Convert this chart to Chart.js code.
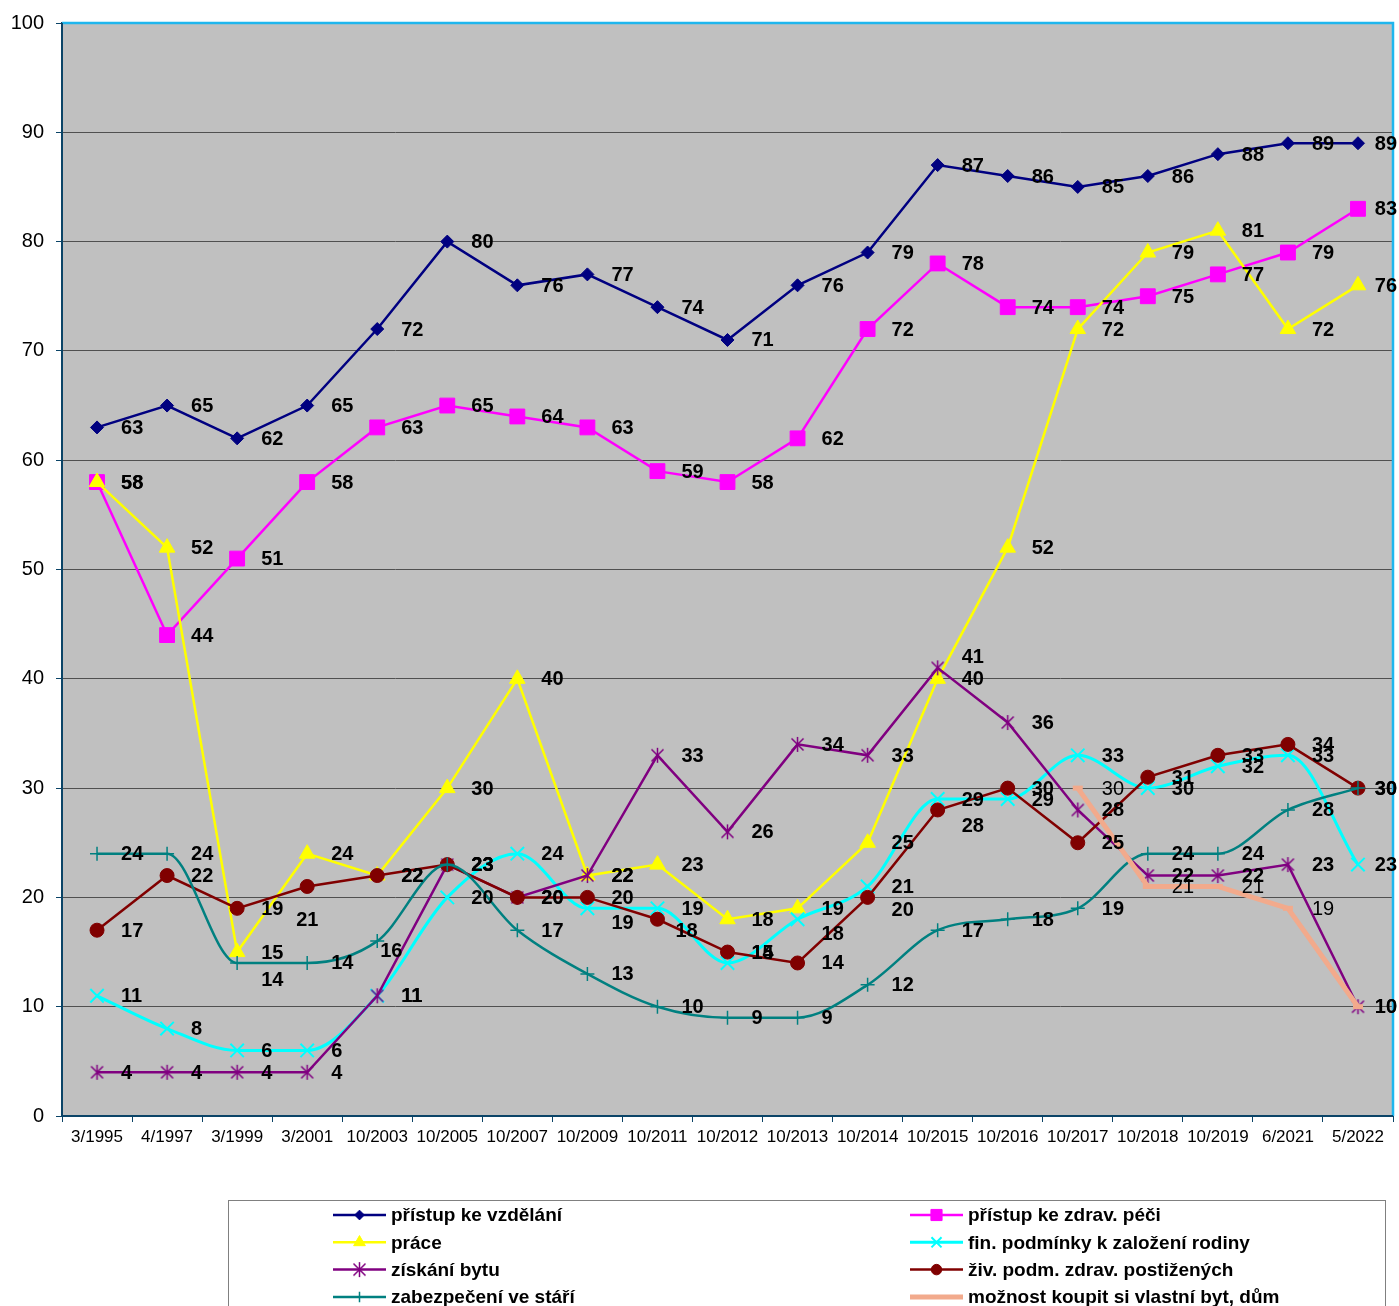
<!DOCTYPE html>
<html><head><meta charset="utf-8">
<script src="https://cdn.jsdelivr.net/npm/chart.js@4"></script>
<style>html,body{margin:0;padding:0;background:#fff}#wrap{width:1399px;height:1306px;position:relative}</style>
</head><body><div id="wrap"><canvas id="c" width="1399" height="1306"></canvas></div>
<script>
const categories = ['3/1995','4/1997','3/1999','3/2001','10/2003','10/2005','10/2007','10/2009','10/2011','10/2012','10/2013','10/2014','10/2015','10/2016','10/2017','10/2018','10/2019','6/2021','5/2022'];
const seriesNames = ['přístup ke vzdělání','přístup ke zdrav. péči','práce','fin. podmínky k založení rodiny','získání bytu','živ. podm. zdrav. postižených','zabezpečení ve stáří','možnost koupit si vlastní byt, dům'];
const vzdelani = [63,65,62,65,72,80,76,77,74,71,76,79,87,86,85,86,88,89,89];
const zdravPece = [58,44,51,58,63,65,64,63,59,58,62,72,78,74,74,75,77,79,83];
const prace = [58,52,15,24,22,30,40,22,23,18,19,25,40,52,72,79,81,72,76];
const finPodminky = [11,8,6,6,11,20,24,19,19,14,18,21,29,29,33,30,32,33,23];
const ziskaniBytu = [4,4,4,4,11,23,20,22,33,26,34,33,41,36,28,22,22,23,10];
const zivPodm = [17,22,19,21,22,23,20,20,18,15,14,20,28,30,25,31,33,34,30];
const zabezpeceni = [24,24,14,14,16,23,17,13,10,9,9,12,17,18,19,24,24,28,30];
const moznostKoupit = [null,null,null,null,null,null,null,null,null,null,null,null,null,null,30,21,21,19,10];
const yMin = 0, yMax = 100, yStep = 10;

// value-label nudges (series index, point index, dx, dy) — style only, as in the reference
const labelNudges = [
  [3, 7, 0, 14], [3, 9, 0, -10], [3, 10, 0, 14],
  [5, 3, -35, 33], [5, 8, -6, 11], [5, 11, 0, 12], [5, 12, 0, 16],
  [6, 2, 0, 17], [6, 4, -21, 9],
  [4, 12, 0, -11]
];

const FONT = "'Liberation Sans', Arial, sans-serif";

function starImg(color, size) {
  const c = document.createElement('canvas');
  c.width = size; c.height = size;
  const g = c.getContext('2d');
  g.strokeStyle = color; g.lineWidth = 1.5;
  const m = size / 2, r = size / 2 - 1;
  g.beginPath();
  g.moveTo(m, m - r); g.lineTo(m, m + r);
  g.moveTo(m - r * 0.8, m - r * 0.8); g.lineTo(m + r * 0.8, m + r * 0.8);
  g.moveTo(m + r * 0.8, m - r * 0.8); g.lineTo(m - r * 0.8, m + r * 0.8);
  g.stroke();
  return c;
}

const styles = [
  {color:'#000080', pointStyle:'rectRot', radius:6.5, width:2.5, pbw:1},
  {color:'#FF00FF', pointStyle:'rect', radius:10.5, width:2.5, pbw:1},
  {color:'#FFFF00', pointStyle:'triangle', radius:9, width:2.5, pbw:1},
  {color:'#00FFFF', pointStyle:'crossRot', radius:9.5, width:3, pbw:2, smooth:true},
  {color:'#800080', pointStyle:starImg('#800080', 17), radius:8, width:2.5, pbw:1.5},
  {color:'#800000', pointStyle:'circle', radius:7, width:2.5, pbw:1},
  {color:'#008080', pointStyle:'cross', radius:7, width:2.5, pbw:1.5, smooth:true},
  {color:'#F2AA8C', pointStyle:'line', radius:5, width:5, pbw:5}
];
const seriesData = [vzdelani, zdravPece, prace, finPodminky, ziskaniBytu, zivPodm, zabezpeceni, moznostKoupit];

const datasets = seriesData.map((d, i) => ({
  label: seriesNames[i],
  data: d,
  borderColor: styles[i].color,
  backgroundColor: styles[i].color,
  borderWidth: styles[i].width,
  pointStyle: styles[i].pointStyle,
  pointRadius: styles[i].radius,
  pointHoverRadius: styles[i].radius,
  pointBorderWidth: styles[i].pbw,
  pointBorderColor: styles[i].color,
  pointBackgroundColor: styles[i].color,
  cubicInterpolationMode: styles[i].smooth ? 'monotone' : 'default',
  tension: styles[i].smooth ? 0.4 : 0,
  order: 20 - i,
  spanGaps: false,
  labelBold: i !== 7
}));

const bgPlugin = {
  id: 'bg',
  beforeDraw(chart) {
    const {ctx, chartArea: a} = chart;
    ctx.save();
    ctx.fillStyle = '#C0C0C0';
    ctx.fillRect(a.left, a.top, a.right - a.left, a.bottom - a.top);
    ctx.restore();
  },
  beforeDatasetsDraw(chart) {
    const {ctx, chartArea: a} = chart;
    ctx.save();
    ctx.strokeStyle = '#1EB6EE';
    ctx.lineWidth = 2.5;
    ctx.beginPath();
    ctx.moveTo(a.left, a.top); ctx.lineTo(a.right, a.top); ctx.lineTo(a.right, a.bottom);
    ctx.stroke();
    ctx.strokeStyle = '#0B4467';
    ctx.lineWidth = 2;
    ctx.beginPath();
    ctx.moveTo(a.left, a.top); ctx.lineTo(a.left, a.bottom); ctx.lineTo(a.right, a.bottom);
    ctx.stroke();
    ctx.restore();
  }
};

const labelPlugin = {
  id: 'vals',
  afterDatasetsDraw(chart) {
    const ctx = chart.ctx;
    ctx.save();
    ctx.textAlign = 'left';
    ctx.textBaseline = 'middle';
    ctx.fillStyle = '#000';
    chart.data.datasets.forEach((ds, i) => {
      const meta = chart.getDatasetMeta(i);
      ctx.font = (ds.labelBold ? 'bold ' : '') + '20px ' + FONT;
      meta.data.forEach((pt, j) => {
        const v = ds.data[j];
        if (v === null || v === undefined) return;
        let dx = 0, dy = 0;
        labelNudges.forEach(n => { if (n[0] === i && n[1] === j) { dx = n[2]; dy = n[3]; } });
        const txt = String(v);
        let x = pt.x + 24 + dx;
        const w = ctx.measureText(txt).width;
        if (x + w > chart.width - 2) x = chart.width - 2 - w;
        ctx.fillText(txt, x, pt.y + 1 + dy);
      });
    });
    ctx.restore();
  }
};

const legendPlugin = {
  id: 'legendBox',
  afterDraw(chart) {
    const ctx = chart.ctx;
    ctx.save();
    ctx.strokeStyle = '#808080';
    ctx.lineWidth = 1;
    ctx.strokeRect(228.5, 1200.5, 1157, 200);
    const colLine = [333, 910], colText = [391, 968];
    chart.data.datasets.forEach((ds, i) => {
      const col = i % 2, row = Math.floor(i / 2);
      const y = 1215 + row * 27.3;
      const x0 = colLine[col], x1 = x0 + 53;
      ctx.strokeStyle = ds.borderColor;
      ctx.lineWidth = ds.borderWidth;
      ctx.beginPath(); ctx.moveTo(x0, y); ctx.lineTo(x1, y); ctx.stroke();
      if (i !== 7 && Chart.helpers && Chart.helpers.drawPoint) {
        ctx.fillStyle = ds.pointBackgroundColor;
        ctx.strokeStyle = ds.pointBorderColor;
        ctx.lineWidth = ds.pointBorderWidth;
        Chart.helpers.drawPoint(ctx, {pointStyle: ds.pointStyle, radius: ds.pointRadius * 0.75, rotation: 0, borderWidth: ds.pointBorderWidth}, (x0 + x1) / 2, y);
      }
      ctx.fillStyle = '#000';
      ctx.font = 'bold 19px ' + FONT;
      ctx.textAlign = 'left';
      ctx.textBaseline = 'middle';
      ctx.fillText(ds.label, colText[col], y + 1);
    });
    ctx.restore();
  }
};

new Chart(document.getElementById('c'), {
  type: 'line',
  data: { labels: categories, datasets },
  options: {
    responsive: false,
    animation: false,
    devicePixelRatio: 1,
    layout: { autoPadding: false, padding: { top: 23, right: 6, left: 0, bottom: 150 } },
    plugins: { legend: { display: false }, tooltip: { enabled: false } },
    scales: {
      x: {
        type: 'category',
        offset: true,
        grid: { display: true, drawOnChartArea: false, drawTicks: true, tickLength: 6, color: '#0B4467', offset: true },
        border: { display: true, color: '#0B4467', width: 2 },
        ticks: { font: { family: FONT, size: 17 }, color: '#000', maxRotation: 0, autoSkip: false, padding: 5 },
        afterFit(s) { s.height = 40; s.paddingLeft = 0; s.paddingRight = 0; }
      },
      y: {
        min: yMin, max: yMax,
        grid: { color: '#505050', lineWidth: 1, tickLength: 6, tickColor: '#0B4467' },
        border: { display: true, color: '#0B4467', width: 2 },
        ticks: { stepSize: yStep, font: { family: FONT, size: 20 }, color: '#000', padding: 12 },
        afterFit(s) { s.width = 62; s.paddingTop = 0; s.paddingBottom = 0; }
      }
    }
  },
  plugins: [bgPlugin, labelPlugin, legendPlugin]
});
</script></body></html>
